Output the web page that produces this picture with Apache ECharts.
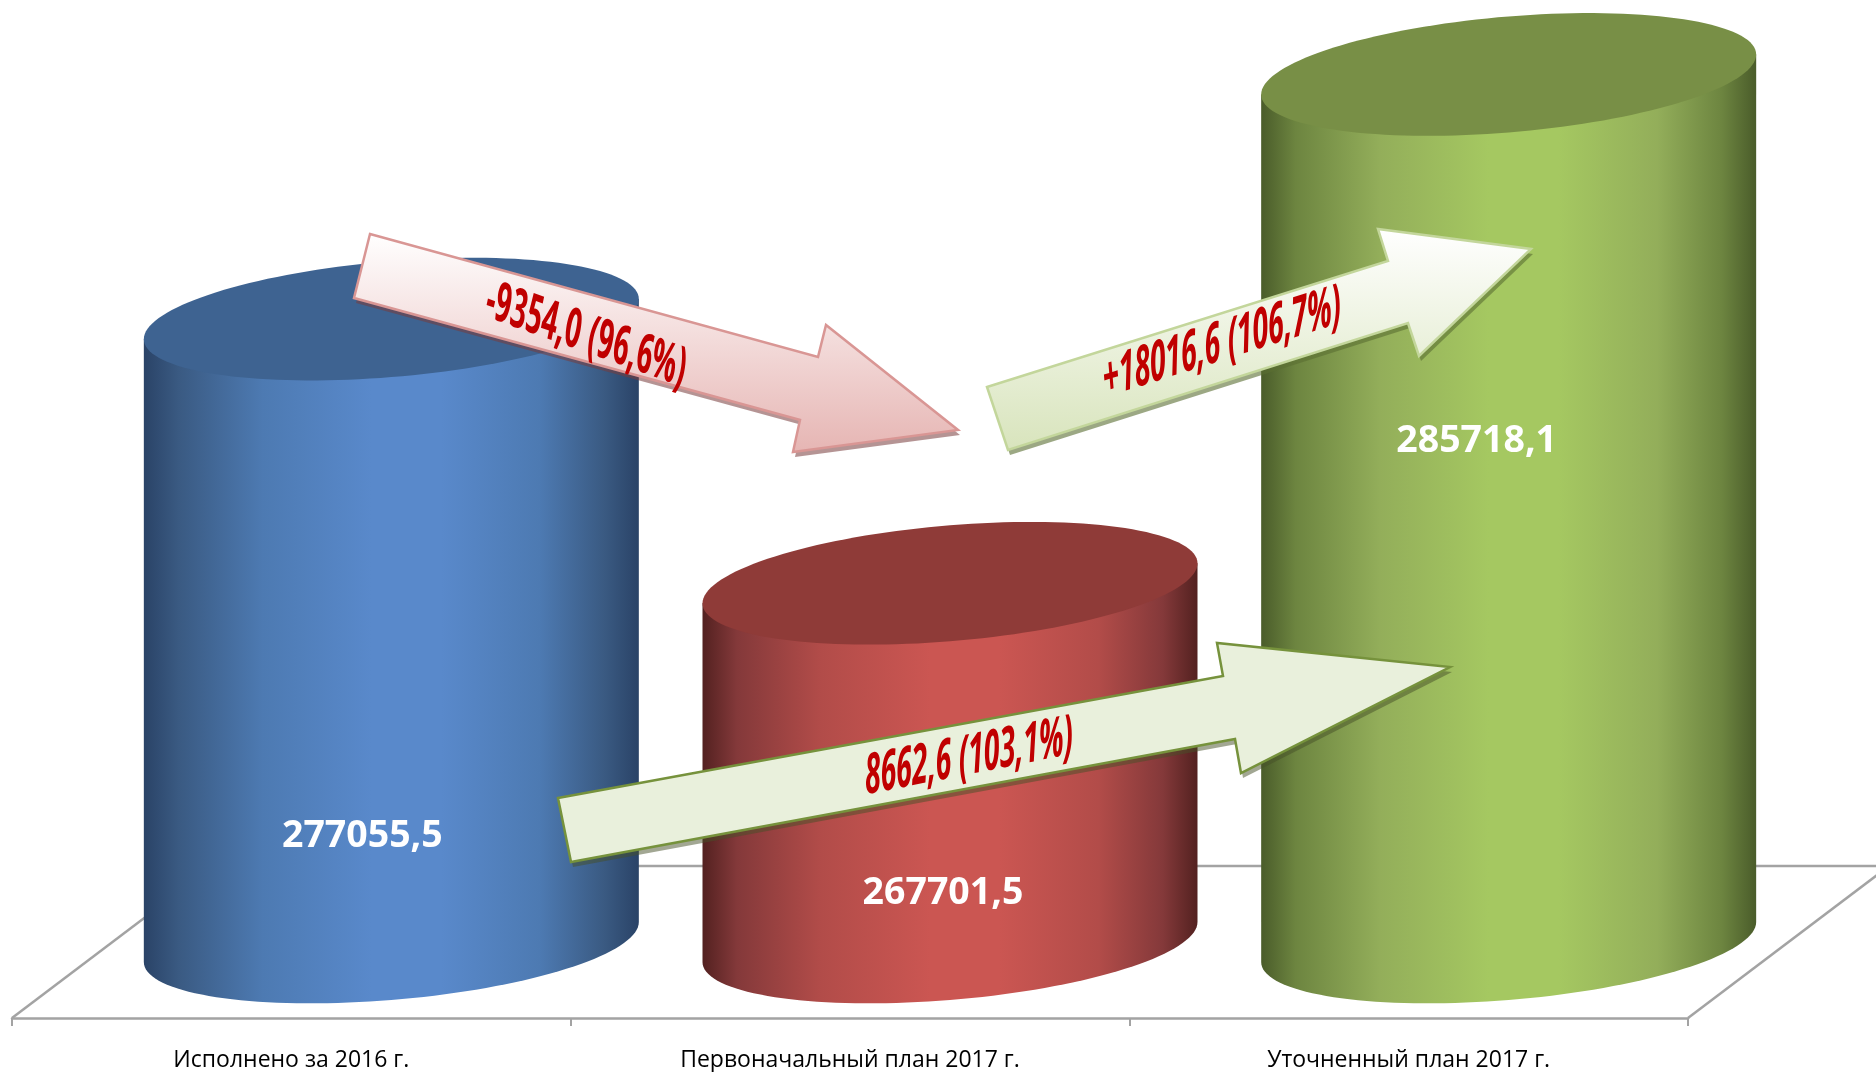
<!DOCTYPE html>
<html>
<head>
<meta charset="utf-8">
<title>Исполнение плана</title>
<script src="https://cdn.jsdelivr.net/npm/echarts@6/dist/echarts.min.js"></script>
<style>
html, body { margin: 0; padding: 0; background: #fff; }
#chart1 { width: 1876px; height: 1072px; }
</style>
</head>
<body>
<div id="chart1"></div>
<script>
// данные
var categories = ['Исполнено за 2016 г.', 'Первоначальный план 2017 г.', 'Уточненный план 2017 г.'];
var values = [277055.5, 267701.5, 285718.1];
var arrowLabels = ['-9354,0 (96,6%)', '+18016,6 (106,7%)', '8662,6 (103,1%)'];

var axisMin = 255000;
var axisMax = 288000;

// цвета цилиндров: край, полутень, средний, светлый, верх
var bodyEdge = ['#2a4367', '#532120', '#4a5c2a'];
var bodyShade = ['#3a5a82', '#84393a', '#6d8540'];
var bodyMid = ['#4d7ab2', '#b24c49', '#93ae5a'];
var bodyLight = ['#5989cb', '#cb5652', '#a5c861'];
var topColor = ['#3e6391', '#8f3b38', '#788f46'];

// смещения подписей значений от верха цилиндра
var labelDx = [-29, -7, -32];
var labelDy = [517, 310, 367];

var GRID_LEFT = 12, GRID_RIGHT = 188, GRID_TOP = 10, GRID_BOTTOM = 130;
var AXIS_OFFSET = 76; // ось ниже основания цилиндров
var CYL_SHIFT = 100;  // сдвиг цилиндров от центра категории (псевдо-3D)
var RX = 247.5, TILT = 20, RY = 58; // наклонный эллипс
var floorY = 1072 - GRID_BOTTOM + AXIS_OFFSET;
var DEPTH_X = 201, DEPTH_Y = 152;

function ellipsePoint(cx, cy, t) {
    return [cx + RX * Math.cos(t), cy - TILT * Math.cos(t) + RY * Math.sin(t)];
}

function renderCylinder(params, api) {
    var i = api.value(0);
    var v = api.value(1);
    var p = api.coord([i, v]);
    var cx = p[0] + CYL_SHIFT;
    var topY = p[1];
    var baseY = api.coord([i, axisMin])[1];
    var body = [ellipsePoint(cx, topY, 0)];
    var cap = [];
    var t;
    for (t = 0; t <= 72; t++) {
        body.push(ellipsePoint(cx, baseY, t / 72 * Math.PI));
    }
    body.push(ellipsePoint(cx, topY, Math.PI));
    for (t = 0; t < 144; t++) {
        cap.push(ellipsePoint(cx, topY, t / 144 * Math.PI * 2));
    }
    return {
        type: 'group',
        children: [{
            type: 'polygon',
            shape: { points: body },
            style: {
                fill: new echarts.graphic.LinearGradient(0, 0, 1, 0, [
                    { offset: 0, color: bodyEdge[i] },
                    { offset: 0.07, color: bodyShade[i] },
                    { offset: 0.24, color: bodyMid[i] },
                    { offset: 0.46, color: bodyLight[i] },
                    { offset: 0.6, color: bodyLight[i] },
                    { offset: 0.8, color: bodyMid[i] },
                    { offset: 0.93, color: bodyShade[i] },
                    { offset: 1, color: bodyEdge[i] }
                ])
            }
        }, {
            type: 'polygon',
            shape: { points: cap },
            style: { fill: topColor[i] }
        }, {
            type: 'text',
            x: cx + labelDx[i],
            y: topY + labelDy[i],
            style: {
                text: String(v).replace('.', ','),
                font: 'bold 37.5px "Open Sans"',
                fill: '#fff',
                align: 'center',
                verticalAlign: 'middle'
            }
        }]
    };
}

// стрелки-аннотации
function arrow(points, fill, stroke, shadow, text, tx, ty, squeeze, angle, size) {
    return [{
        type: 'polygon',
        z: 99,
        x: 2,
        y: 5,
        shape: { points: points },
        style: { fill: shadow }
    }, {
        type: 'polygon',
        z: 100,
        shape: { points: points },
        style: {
            fill: fill,
            stroke: stroke,
            lineWidth: 2.5,
            lineJoin: 'miter'
        }
    }, {
        type: 'group',
        z: 101,
        x: tx,
        y: ty,
        scaleX: squeeze,
        children: [{
            type: 'text',
            z: 101,
            rotation: angle,
            style: {
                text: text,
                font: 'italic bold ' + size + 'px "Open Sans"',
                fill: '#c00000',
                align: 'center',
                verticalAlign: 'middle'
            }
        }]
    }];
}

function vGrad(a, b) {
    return new echarts.graphic.LinearGradient(0, 0, 0, 1, [
        { offset: 0, color: a },
        { offset: 1, color: b }
    ]);
}

var floorColor = '#a3a3a3';
var floorLines = [
    [GRID_LEFT, floorY, GRID_LEFT + DEPTH_X, floorY - DEPTH_Y],
    [1876 - GRID_RIGHT, floorY, 1876 - GRID_RIGHT + DEPTH_X, floorY - DEPTH_Y],
    [GRID_LEFT + DEPTH_X, floorY - DEPTH_Y, 1876, floorY - DEPTH_Y]
].map(function (l) {
    return {
        type: 'line',
        z: 0,
        shape: { x1: l[0], y1: l[1], x2: l[2], y2: l[3] },
        style: { stroke: floorColor, lineWidth: 2.5 }
    };
});

var arrows = [].concat(
    arrow([[370, 234], [818, 357], [826, 325], [958, 430], [793, 452], [800, 420], [354, 298]],
        vGrad('#ffffff', '#e6b5b3'), '#d99694', 'rgba(120,60,60,0.55)',
        arrowLabels[0], 586, 336, 0.51, -0.18, 56),
    arrow([[987, 387], [1388, 261], [1378, 229], [1531, 249], [1419, 356], [1408, 323], [1008, 450]],
        vGrad('#ffffff', '#d8e4bc'), '#c3d69b', 'rgba(90,110,50,0.6)',
        arrowLabels[1], 1222, 344, 0.51, 0.16, 56),
    arrow([[558, 798], [1223, 676], [1217, 643], [1450, 667], [1241, 773], [1235, 739], [571, 862]],
        '#e9f0dc', '#76923c', 'rgba(70,80,40,0.5)',
        arrowLabels[2], 969, 758, 0.51, 0.1, 56)
);

var option = {
    animation: false,
    backgroundColor: '#fff',
    grid: { left: GRID_LEFT, right: GRID_RIGHT, top: GRID_TOP, bottom: GRID_BOTTOM },
    xAxis: {
        type: 'category',
        data: categories,
        offset: AXIS_OFFSET,
        axisLine: { lineStyle: { color: floorColor, width: 2.5 } },
        axisTick: { show: true, alignWithLabel: false, length: 8, lineStyle: { color: floorColor, width: 2 } },
        axisLabel: {
            interval: 0,
            color: '#000',
            fontFamily: 'Open Sans',
            fontSize: 23,
            margin: 31
        }
    },
    yAxis: { type: 'value', min: axisMin, max: axisMax, show: false },
    graphic: { elements: floorLines.concat(arrows) },
    series: [{
        type: 'custom',
        coordinateSystem: 'cartesian2d',
        z: 2,
        encode: { x: 0, y: 1 },
        clip: false,
        renderItem: renderCylinder,
        data: values.map(function (v, i) { return [i, v]; })
    }]
};

var myChart = echarts.init(document.getElementById('chart1'));
myChart.setOption(option);
</script>
</body>
</html>
